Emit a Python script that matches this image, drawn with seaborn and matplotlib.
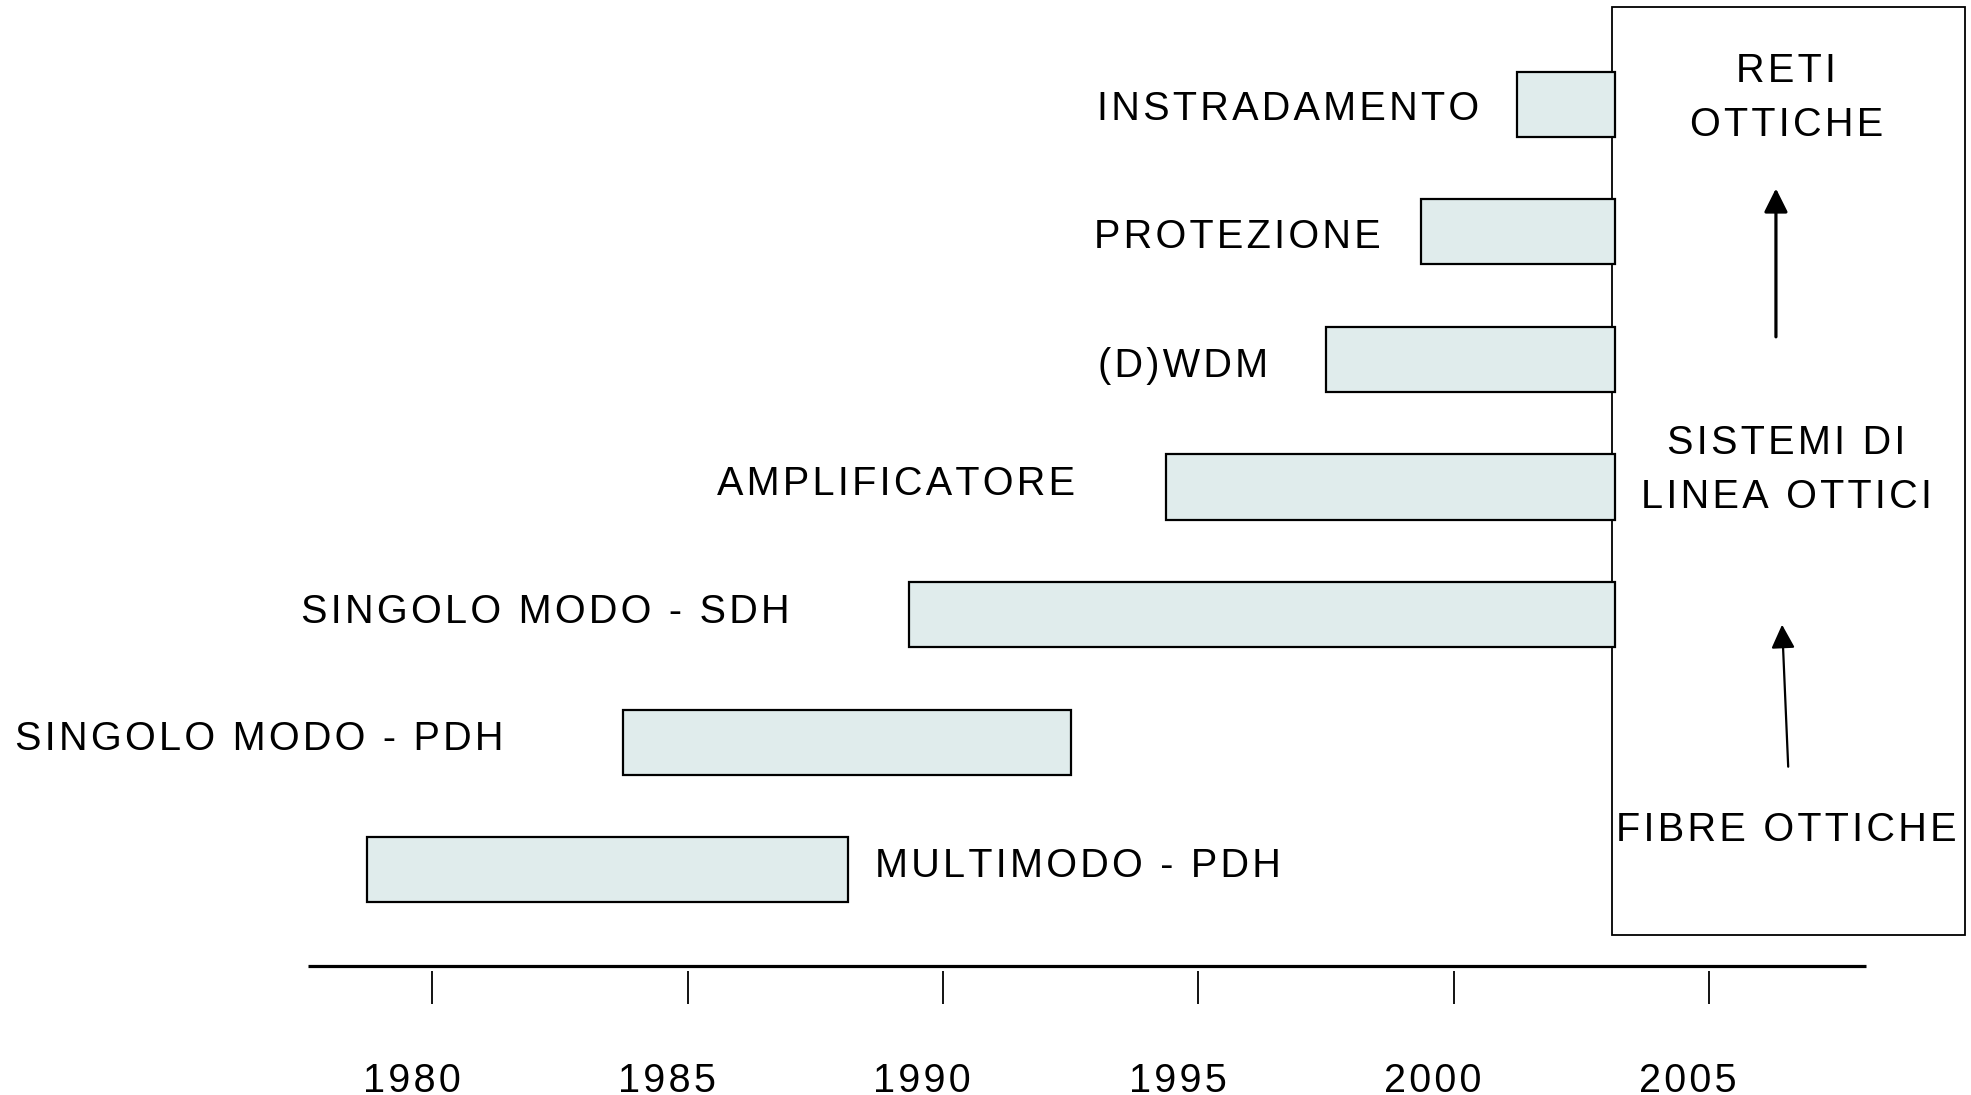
import matplotlib
matplotlib.use("Agg")
import matplotlib.pyplot as plt
from matplotlib.patches import Rectangle
import pandas as pd
import seaborn as sns

# ---------------- data ----------------
labels = ["INSTRADAMENTO", "PROTEZIONE", "(D)WDM", "AMPLIFICATORE",
          "SINGOLO MODO - SDH", "SINGOLO MODO - PDH", "MULTIMODO - PDH"]
starts = [2001.23, 1999.35, 1997.50, 1994.36, 1989.33, 1983.74, 1978.72]
ends = [2003.15, 2003.15, 2003.15, 2003.15, 2003.15, 1992.51, 1988.14]
years = [1980, 1985, 1990, 1995, 2000, 2005]
box_lines = [["RETI", "OTTICHE"], ["SISTEMI DI", "LINEA OTTICI"], ["FIBRE OTTICHE"]]

# label placement (x anchor in years, alignment, vertical offset in rows)
label_x = [2000.49, 1998.57, 1996.37, 1992.58, 1986.99, 1981.39, 1988.66]
label_ha = ["right", "right", "right", "right", "right", "right", "left"]
label_dy = [0.01, 0.015, 0.025, -0.05, -0.044, -0.05, -0.06]

sns.set_theme(style="white")
plt.rcParams["font.family"] = ["Liberation Sans", "DejaVu Sans"]

FS = 28.5
CAP = 0.113  # half cap height in row units (baseline offset)


def spaced(s):
    return "\u200a".join(s)


fig = plt.figure(figsize=(19.71, 10.95), dpi=100)
ax = fig.add_axes([0, 0, 1, 1])

df = pd.DataFrame({"label": labels, "start": starts, "end": ends})

# big box behind bars
ax.add_patch(Rectangle((2003.10, -0.76), 6.91, 7.27, facecolor="white",
                       edgecolor="black", linewidth=1.3, zorder=0.5))

sns.barplot(data=df, x="end", y="label", order=labels, orient="h",
            color="#E0ECEC", edgecolor="black", linewidth=1.6, saturation=1,
            width=0.51, errorbar=None, ax=ax, zorder=2)
for patch, s, e in zip(ax.patches[1:] if len(ax.patches) > len(labels) else ax.patches, starts, ends):
    patch.set_x(s)
    patch.set_width(e - s)

# bar labels
for i, (lab, lx, ha, dy) in enumerate(zip(labels, label_x, label_ha, label_dy)):
    ax.text(lx, i + dy + CAP, spaced(lab), ha=ha, va="baseline",
            fontsize=FS, color="black")

# time axis
ax.plot([1977.56, 2008.08], [6.755, 6.755], color="black", lw=2.3,
        solid_capstyle="butt")
ax.vlines(years, 6.79, 7.049, color="black", lw=1.3)
for y in years:
    ax.text(y - 0.41, 7.632 + CAP, spaced(str(y)), ha="center", va="baseline",
            fontsize=FS, color="black")

# text in the box
box_cx = 2006.51
box_y = [[-0.286, 0.138], [2.631, 3.054], [5.665]]
for lines, ys in zip(box_lines, box_y):
    for t, yy in zip(lines, ys):
        ax.text(box_cx, yy + CAP, spaced(t), ha="center", va="baseline",
                fontsize=FS, color="black")

# arrows
ax.annotate("", xy=(2006.31, 0.66), xytext=(2006.31, 1.823),
            arrowprops=dict(arrowstyle="-|>", lw=2.3, color="black",
                            mutation_scale=36, shrinkA=0, shrinkB=0))
ax.annotate("", xy=(2006.43, 4.079), xytext=(2006.55, 5.192),
            arrowprops=dict(arrowstyle="-|>", lw=1.6, color="black",
                            mutation_scale=36, shrinkA=0, shrinkB=0))

ax.set_xlim(1971.53, 2010.13)
ax.set_ylim(7.765, -0.817)
ax.set_axis_off()

fig.savefig("out.png", dpi=100, facecolor="white")
